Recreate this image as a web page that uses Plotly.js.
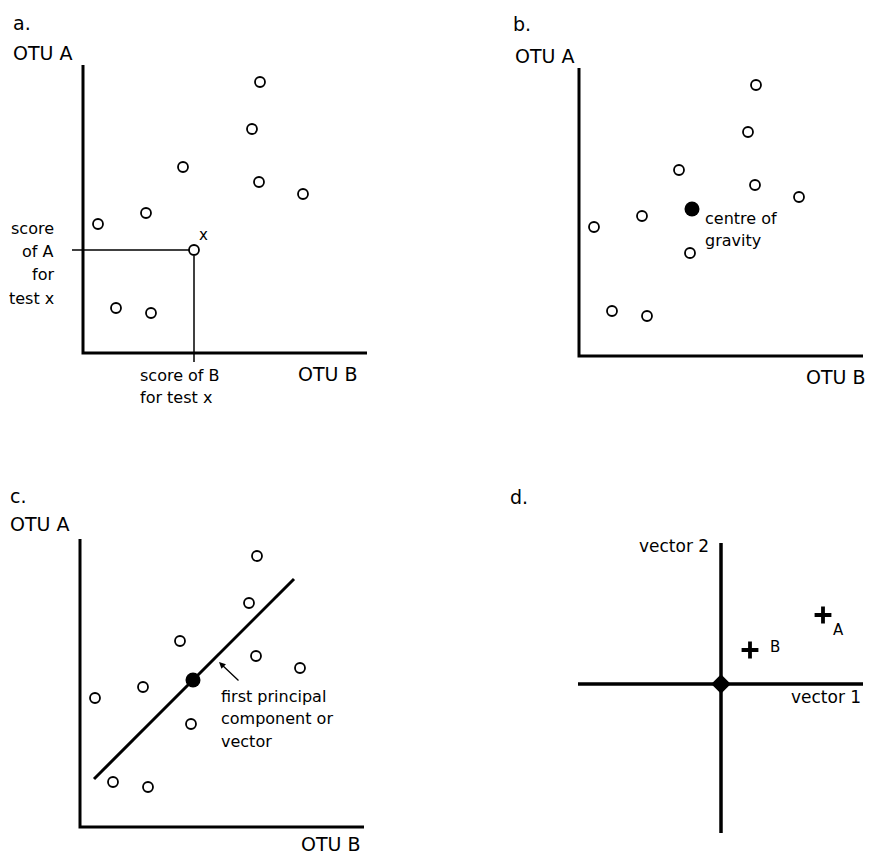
<!DOCTYPE html>
<html>
<head>
<meta charset="utf-8">
<script src="https://cdn.plot.ly/plotly-3.0.1.min.js"></script>
<style>html,body{margin:0;padding:0;background:#fff;}#chart{width:870px;height:856px;}</style>
</head>
<body>
<div id="chart"></div>
<script>
// ---- data (scores; same OTUs in panels a, b, c) ----
var scoreB = [177, 169, 100, 176, 220, 63, 15, 111, 33, 68];   // OTU B score for each test
var scoreA = [271, 224, 186, 171, 159, 140, 129, 103, 45, 40];  // OTU A score for each test
var testXIndex = 7;                       // the test marked "x"
var centroidB = [113];                    // centre of gravity
var centroidA = [147];
var pcLineB = [14, 214];                  // first principal component
var pcLineA = [48, 248];
var axisLB = [0, 0, 284];                 // L-shaped OTU axes
var axisLA = [288, 0, 0];
var vec1X = [-143, 142], vec1Y = [0, 0];  // vector 1 axis
var vec2X = [0, 0], vec2Y = [141, -149];  // vector 2 axis
var ordX = [102, 29];                     // ordination positions of OTUs A and B
var ordY = [69, 34];
var ordNames = ['A', 'B'];

var FONT = 'DejaVu Sans, Liberation Sans, Arial, sans-serif';
var BLK = '#000';

function pts(xa, ya) {
  return {x: scoreB, y: scoreA, xaxis: xa, yaxis: ya, type: 'scatter', mode: 'markers',
    marker: {symbol: 'circle-open', size: 10, color: BLK, line: {width: 1.8, color: BLK}},
    hoverinfo: 'skip'};
}
function line(x, y, xa, ya, w) {
  return {x: x, y: y, xaxis: xa, yaxis: ya, type: 'scatter', mode: 'lines',
    line: {color: BLK, width: w}, hoverinfo: 'skip'};
}
function centroid(xa, ya) {
  return {x: centroidB, y: centroidA, xaxis: xa, yaxis: ya, type: 'scatter', mode: 'markers',
    marker: {symbol: 'circle', size: 15, color: BLK}, hoverinfo: 'skip'};
}

var xTB = scoreB[testXIndex], xTA = scoreA[testXIndex];

var traces = [
  // panel a
  line(axisLB, axisLA, 'x', 'y', 3),
  line([-11, xTB - 5], [xTA, xTA], 'x', 'y', 1.5),
  line([xTB, xTB], [xTA - 6, -9], 'x', 'y', 1.5),
  pts('x', 'y'),
  // panel b
  line(axisLB, axisLA, 'x2', 'y2', 3),
  pts('x2', 'y2'),
  centroid('x2', 'y2'),
  // panel c
  line(axisLB, axisLA, 'x3', 'y3', 3),
  line(pcLineB, pcLineA, 'x3', 'y3', 3),
  pts('x3', 'y3'),
  centroid('x3', 'y3'),
  // panel d
  line(vec1X, vec1Y, 'x4', 'y4', 3.5),
  line(vec2X, vec2Y, 'x4', 'y4', 3.5),
  {x: [0], y: [0], xaxis: 'x4', yaxis: 'y4', type: 'scatter', mode: 'markers',
   marker: {symbol: 'diamond', size: 15, color: BLK}, hoverinfo: 'skip'},
  {x: ordX, y: ordY, xaxis: 'x4', yaxis: 'y4', type: 'scatter', mode: 'markers',
   marker: {symbol: 'cross-thin-open', size: 12, color: BLK, line: {width: 3.8, color: BLK}},
   hoverinfo: 'skip'}
];

function lab(ax, x, y, text, size, anchor) {
  return {xref: 'x' + ax, yref: 'y' + ax, x: x, y: y, text: text, showarrow: false,
    xanchor: anchor || 'left', yanchor: 'middle', font: {family: FONT, size: size, color: BLK}};
}

var S = 16, L = 19;
var annotations = [
  // a
  lab('', -72, 330, 'a.', L),
  lab('', -72, 300, 'OTU A', L),
  lab('', -27, 125, 'score', S, 'right'),
  lab('', -27, 102, 'of A', S, 'right'),
  lab('', -27, 79, 'for', S, 'right'),
  lab('', -27, 55, 'test x', S, 'right'),
  lab('', 55, -22, 'score of B', S),
  lab('', 55, -44, 'for test x', S),
  lab('', 277, -21, 'OTU B', L, 'right'),
  lab('', 120, 118, 'x', 15, 'center'),
  // b
  lab('2', -68, 332, 'b.', L),
  lab('2', -66, 300, 'OTU A', L),
  lab('2', 124, 138, 'centre of', S),
  lab('2', 124, 116, 'gravity', S),
  lab('2', 289, -21, 'OTU B', L, 'right'),
  // c
  lab('3', -72, 331, 'c.', L),
  lab('3', -72, 303, 'OTU A', L),
  lab('3', 139, 131, 'first principal', S),
  lab('3', 139, 109, 'component or', S),
  lab('3', 139, 86, 'vector', S),
  lab('3', 283, -17, 'OTU B', L, 'right'),
  {xref: 'x3', yref: 'y3', axref: 'x3', ayref: 'y3', x: 139, y: 165, ax: 160, ay: 145,
   text: '', showarrow: true, arrowhead: 2, arrowsize: 1, arrowwidth: 1.3, arrowcolor: BLK},
  // d
  lab('4', -213, 187, 'd.', L),
  lab('4', -10, 138, 'vector 2', S + 1, 'right'),
  lab('4', 142, -13, 'vector 1', S + 1, 'right'),
  lab('4', ordX[1] + 18, ordY[1] + 3, ordNames[1], 15),
  lab('4', ordX[0] + 8, ordY[0] - 15, ordNames[0], 15)
];

function ax(domain, range) {
  return {domain: domain, range: range, visible: false, fixedrange: true,
    showgrid: false, zeroline: false};
}
var split = 1 - 420 / 856;
var layout = {
  width: 870, height: 856,
  margin: {l: 0, r: 0, t: 0, b: 0, pad: 0},
  paper_bgcolor: '#fff', plot_bgcolor: 'rgba(0,0,0,0)',
  showlegend: false,
  font: {family: FONT, color: BLK},
  xaxis: ax([0, 0.5], [-83, 352]),
  yaxis: ax([split, 1], [-67, 353]),
  xaxis2: ax([0.5, 1], [-144, 291]),
  yaxis2: ax([split, 1], [-64, 356]),
  xaxis3: ax([0, 0.5], [-80, 355]),
  yaxis3: ax([0, split], [-29, 407]),
  xaxis4: ax([0.5, 1], [-286, 149]),
  yaxis4: ax([0, split], [-172, 264]),
  annotations: annotations
};
Plotly.newPlot('chart', traces, layout, {displayModeBar: false, staticPlot: true});
</script>
</body>
</html>
